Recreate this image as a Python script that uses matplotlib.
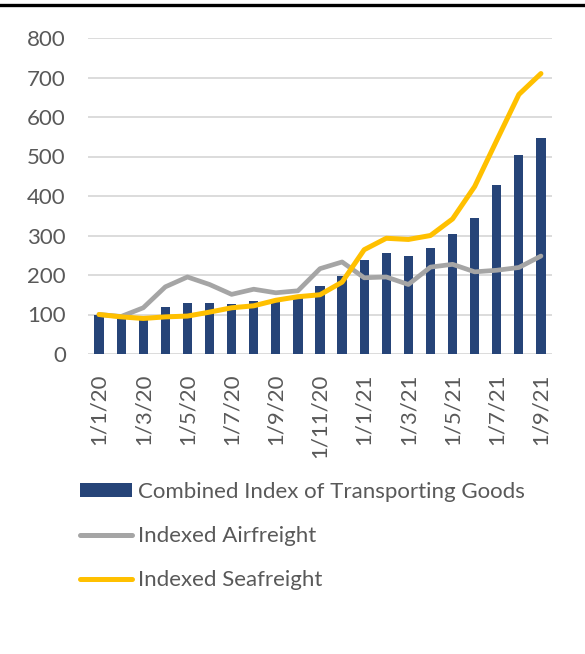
import matplotlib
matplotlib.use("Agg")
import matplotlib.pyplot as plt
from matplotlib.lines import Line2D
from matplotlib.patches import Patch
import numpy as np

months = ["1/1/20", "1/2/20", "1/3/20", "1/4/20", "1/5/20", "1/6/20", "1/7/20",
          "1/8/20", "1/9/20", "1/10/20", "1/11/20", "1/12/20", "1/1/21", "1/2/21",
          "1/3/21", "1/4/21", "1/5/21", "1/6/21", "1/7/21", "1/8/21", "1/9/21"]
combined = [100, 97, 97, 120, 128, 129, 127, 134, 140, 145, 172, 197,
            237, 256, 247, 269, 303, 345, 427, 505, 547]
airfreight = [100, 95, 117, 170, 195, 176, 151, 164, 155, 160, 216, 233,
              193, 195, 176, 220, 227, 208, 212, 219, 248]
seafreight = [100, 94, 90, 94, 96, 106, 117, 122, 136, 145, 150, 182,
              264, 293, 290, 300, 342, 424, 541, 657, 710]
yticks = [0, 100, 200, 300, 400, 500, 600, 700, 800]
labels = ["Combined Index of Transporting Goods", "Indexed Airfreight", "Indexed Seafreight"]

BLUE = "#264478"
GRAY = "#A5A5A5"
GOLD = "#FFC000"
TXT = "#595959"
GRID = "#D9D9D9"
FONT = ["Lato", "DejaVu Sans"]
FS = 16

W, H = 585, 654
fig = plt.figure(figsize=(W / 100, H / 100), dpi=100)
ax = fig.add_axes([88 / W, 1 - 354 / H, (552 - 88) / W, (354 - 38) / H])

x = np.arange(len(months))
ax.bar(x, combined, width=0.42, color=BLUE, zorder=2)
ax.plot(x, airfreight, color=GRAY, lw=3.4, solid_capstyle="round", zorder=3)
ax.plot(x, seafreight, color=GOLD, lw=3.6, solid_capstyle="round", zorder=4)

ax.set_xlim(-0.5, len(months) - 0.5)
ax.set_ylim(0, 800)
ax.set_yticks(yticks)
ax.set_yticklabels([str(v) for v in yticks], fontfamily=FONT, fontsize=FS, color=TXT)
ax.set_xticks(x[::2])
ax.set_xticklabels(months[::2], rotation=90, fontfamily=FONT, fontsize=FS, color=TXT)
ax.tick_params(axis="both", length=0)
ax.tick_params(axis="y", pad=16)
ax.tick_params(axis="x", pad=14)
ax.grid(axis="y", color=GRID, lw=1.3, zorder=0)
ax.set_axisbelow(True)
for s in ax.spines.values():
    s.set_visible(False)

handles = [Patch(facecolor=BLUE, edgecolor="none"),
           Line2D([0], [0], color=GRAY, lw=3.6, solid_capstyle="round"),
           Line2D([0], [0], color=GOLD, lw=3.6, solid_capstyle="round")]
leg = fig.legend(handles, labels, loc="upper left", bbox_to_anchor=(60 / W, 1 - 462 / H),
                 frameon=False, prop={"family": FONT, "size": FS},
                 handlelength=2.34, handleheight=0.58, handletextpad=0.27,
                 labelspacing=1.09)
for t in leg.get_texts():
    t.set_color(TXT)

fig.add_artist(Line2D([0, 1], [1 - 5 / H, 1 - 5 / H], color="black", lw=2.4,
                      transform=fig.transFigure))

fig.savefig("out.png", dpi=100)
